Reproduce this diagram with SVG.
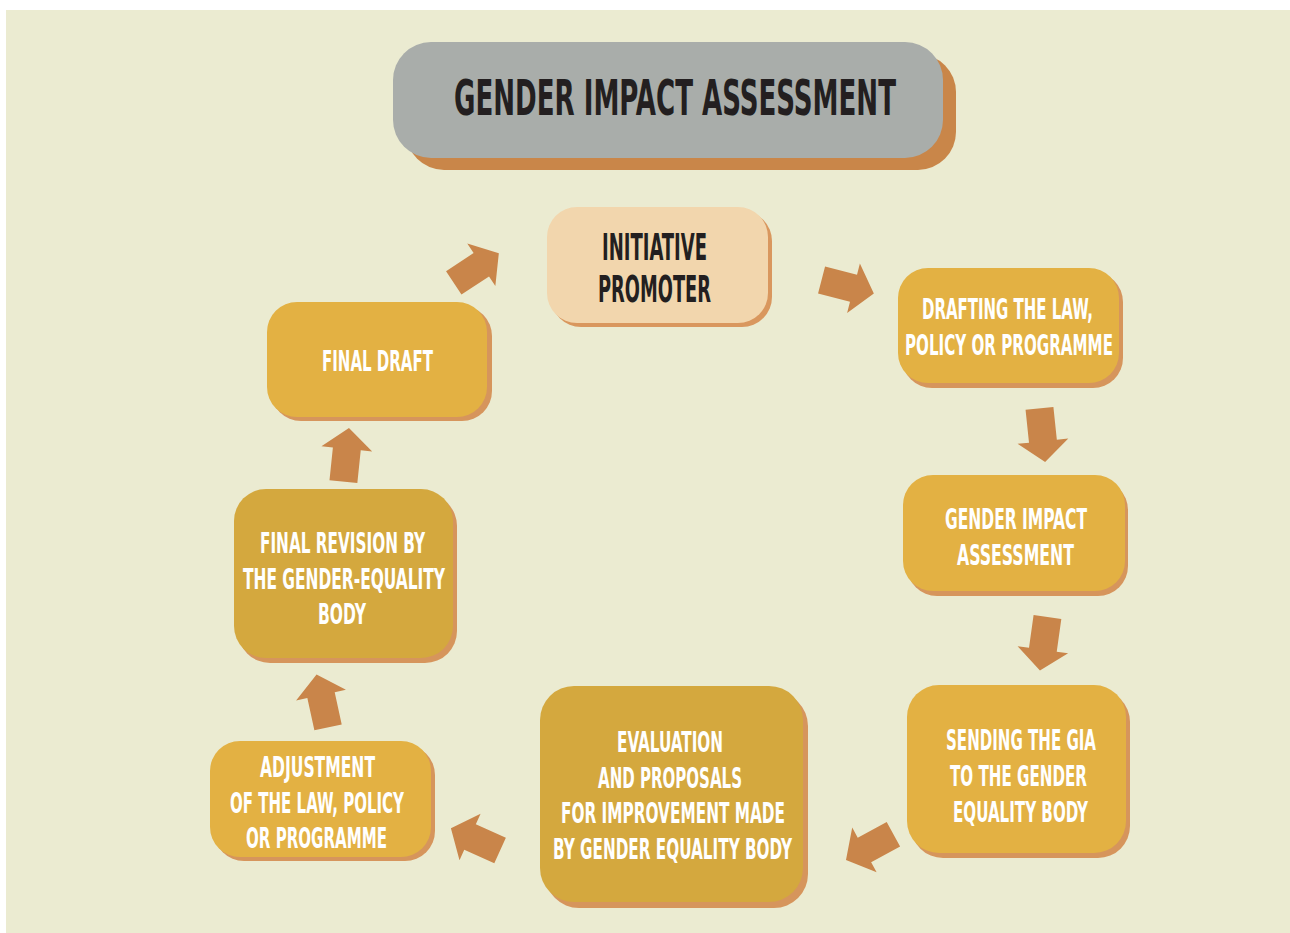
<svg xmlns="http://www.w3.org/2000/svg" width="1290" height="933" viewBox="0 0 1290 933">
<style>
.t{font-family:"Liberation Sans Narrow","DejaVu Sans Condensed","Liberation Sans",sans-serif;font-weight:bold;}
.w{fill:#ffffff;font-size:29px;}
.d{fill:#231F20;}
.box{fill:#E3B143;}
.dbox{fill:#D4A83E;}
.sh{fill:#D6955C;}
.arr{fill:#C9854A;}
</style>
<defs>
<path id="arrow" d="M -27,-14 H 6 V -25.5 L 27,0 L 6,25.5 V 14 H -27 Z"/>
</defs>
<rect x="0" y="0" width="1290" height="933" fill="#ffffff"/>
<rect x="6" y="10" width="1284" height="923" fill="#EBEBD1"/>

<g id="title">
<rect x="406" y="54" width="550" height="116" rx="38" fill="#C98649"/>
<rect x="393" y="42" width="550" height="116" rx="38" fill="#A9ADAA"/>
<text class="t d" x="454" y="115" font-size="49" textLength="442" lengthAdjust="spacingAndGlyphs">GENDER IMPACT ASSESSMENT</text>
</g>

<g id="initiative">
<rect x="551" y="211" width="221" height="116" rx="30" fill="#D9975E"/>
<rect x="547" y="207" width="221" height="116" rx="30" fill="#F2D6AD"/>
<text class="t d" x="602" y="260" font-size="37" textLength="105" lengthAdjust="spacingAndGlyphs">INITIATIVE</text>
<text class="t d" x="598" y="302" font-size="37" textLength="113" lengthAdjust="spacingAndGlyphs">PROMOTER</text>
</g>

<g id="drafting">
<rect class="sh" x="902" y="272" width="221" height="116" rx="30"/>
<rect class="box" x="898" y="268" width="221" height="115" rx="30"/>
<text class="t w" x="922" y="319" textLength="171" lengthAdjust="spacingAndGlyphs">DRAFTING THE LAW,</text>
<text class="t w" x="905" y="355" textLength="208" lengthAdjust="spacingAndGlyphs">POLICY OR PROGRAMME</text>
</g>

<g id="gia">
<rect class="sh" x="907" y="480" width="221" height="116" rx="30"/>
<rect class="box" x="903" y="475" width="222" height="116" rx="30"/>
<text class="t w" x="945" y="529" textLength="142" lengthAdjust="spacingAndGlyphs">GENDER IMPACT</text>
<text class="t w" x="957" y="565" textLength="117" lengthAdjust="spacingAndGlyphs">ASSESSMENT</text>
</g>

<g id="sending">
<rect class="sh" x="911" y="690" width="219" height="168" rx="32"/>
<rect class="box" x="907" y="685" width="219" height="168" rx="32"/>
<text class="t w" x="946" y="750" textLength="150" lengthAdjust="spacingAndGlyphs">SENDING THE GIA</text>
<text class="t w" x="950" y="786" textLength="137" lengthAdjust="spacingAndGlyphs">TO THE GENDER</text>
<text class="t w" x="953" y="822" textLength="135" lengthAdjust="spacingAndGlyphs">EQUALITY BODY</text>
</g>

<g id="evaluation">
<rect class="sh" x="545" y="692" width="263" height="216" rx="34"/>
<rect class="dbox" x="540" y="686" width="263" height="216" rx="34"/>
<text class="t w" x="617" y="752" textLength="106" lengthAdjust="spacingAndGlyphs">EVALUATION</text>
<text class="t w" x="598" y="788" textLength="144" lengthAdjust="spacingAndGlyphs">AND PROPOSALS</text>
<text class="t w" x="561" y="823" textLength="224" lengthAdjust="spacingAndGlyphs">FOR IMPROVEMENT MADE</text>
<text class="t w" x="553" y="859" textLength="239" lengthAdjust="spacingAndGlyphs">BY GENDER EQUALITY BODY</text>
</g>

<g id="adjustment">
<rect class="sh" x="214" y="745" width="221" height="116" rx="30"/>
<rect class="box" x="210" y="741" width="221" height="116" rx="30"/>
<text class="t w" x="260" y="777" textLength="115" lengthAdjust="spacingAndGlyphs">ADJUSTMENT</text>
<text class="t w" x="230" y="813" textLength="174" lengthAdjust="spacingAndGlyphs">OF THE LAW, POLICY</text>
<text class="t w" x="246" y="848" textLength="141" lengthAdjust="spacingAndGlyphs">OR PROGRAMME</text>
</g>

<g id="final-revision">
<rect class="sh" x="238" y="494" width="219" height="169" rx="32"/>
<rect class="dbox" x="234" y="489" width="219" height="169" rx="32"/>
<text class="t w" x="260" y="553" textLength="165" lengthAdjust="spacingAndGlyphs">FINAL REVISION BY</text>
<text class="t w" x="243" y="589" textLength="202" lengthAdjust="spacingAndGlyphs">THE GENDER-EQUALITY</text>
<text class="t w" x="318" y="624" textLength="48" lengthAdjust="spacingAndGlyphs">BODY</text>
</g>

<g id="final-draft">
<rect class="sh" x="271" y="306" width="221" height="115" rx="30"/>
<rect class="box" x="267" y="302" width="220" height="115" rx="30"/>
<text class="t w" x="322" y="371" textLength="111" lengthAdjust="spacingAndGlyphs">FINAL DRAFT</text>
</g>

<g id="connectors" class="arr">
<use href="#arrow" transform="translate(476.3,268) rotate(-33.4)"/>
<use href="#arrow" transform="translate(847.7,286.7) rotate(14.5)"/>
<use href="#arrow" transform="translate(1042.3,435.2) rotate(84)"/>
<use href="#arrow" transform="translate(1043.7,643.8) rotate(98)"/>
<use href="#arrow" transform="translate(869.7,847.1) rotate(151.4)"/>
<use href="#arrow" transform="translate(475.5,839.4) rotate(204.4)"/>
<use href="#arrow" transform="translate(322.3,701) rotate(-102.3)"/>
<use href="#arrow" transform="translate(346.2,454.8) rotate(-84.1)"/>
</g>
</svg>
